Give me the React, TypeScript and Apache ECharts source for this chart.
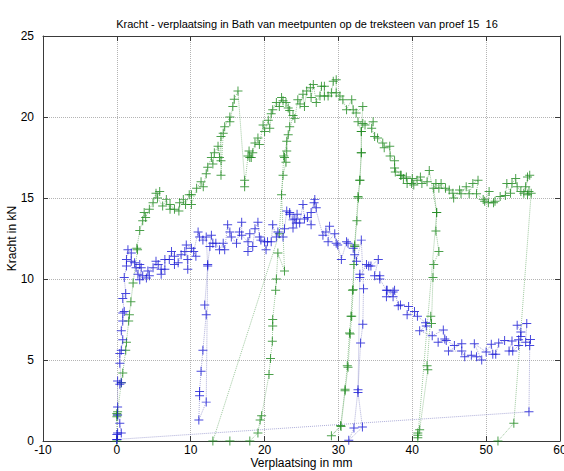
import React, { useEffect, useRef } from "react";
import * as echarts from "echarts";

const title = "Kracht - verplaatsing in Bath van meetpunten op de treksteen van proef 15  16";
const xName = "Verplaatsing in mm";
const yName = "Kracht in kN";
const xTicks = [-10, 0, 10, 20, 30, 40, 50, 60];
const yTicks = [0, 5, 10, 15, 20, 25];

// proef 15 (green)
const greenLoading: number[][] = [
  [0, 0], [0, 1.5], [0, 1.7], [0.1, 1.8], [0.05, 1.6], [0.6, 3.6], [0.8, 4.2], [1.2, 5.6], [1.3, 6.1],
  [1.6, 7.4], [1.7, 7.8], [1.9, 8.6], [2.2, 9.75], [2.8, 11.8], [2.7, 11.9], [3.1, 13], [3.5, 13.6],
  [3.7, 14.1], [3.9, 13.8], [4.4, 14.3], [4.9, 14.7], [5.3, 15.3], [5.8, 15.4], [5.5, 15.0], [6.2, 14.5],
  [6.7, 14.9], [7.2, 14.3], [7.2, 14.6], [7.8, 14.3], [8.4, 14.2], [8.5, 14.7], [9, 14.9], [9.3, 14.6],
  [9.8, 15.2], [10.1, 15.2], [10.1, 14.6], [10.8, 15.6], [11.4, 16.0], [11.7, 15.7], [12.1, 16.5],
  [12.3, 16.9], [12.8, 17.5], [13, 17.1], [13.2, 17.8], [13.7, 18.2], [13.9, 17.5], [14.1, 18.8],
  [14.1, 17.3], [14.1, 16.4], [14.4, 19.0], [14.6, 19.4], [15.3, 20], [15.3, 19.7], [15.7, 20.65],
  [15.9, 21.1], [16.4, 21.6],
];
const greenSecond: number[][] = [
  [17.3, 16.1], [17.3, 15.7], [17.75, 17.6], [18, 17.5], [17.9, 17.9], [18.2, 17.5], [18.4, 17.8],
  [18.7, 18.4], [19.1, 18.7], [19.3, 18.3], [19.8, 19.5], [20, 19.1], [20.5, 19.8], [20.7, 19.3],
  [20.9, 20.2], [21.1, 20.45], [21.6, 20.9], [22, 20.65], [22.3, 21.2], [22.5, 21], [22.9, 20.9],
  [23.2, 20.55], [23.4, 20.4],
];
const greenReload1: number[][] = [
  [23.4, 19.4], [23.2, 18.9], [23, 18.5], [23, 17.9], [22.7, 17.5], [22.9, 17.2], [22.5, 16.4],
  [22.3, 15.2], [22.7, 10.5], [21.8, 11.6], [21.6, 10], [21.5, 9.3], [21.1, 7.5], [21.1, 7.1],
  [21.05, 6.15], [20.8, 5.1], [20.6, 4.1], [19.6, 1.56], [19.4, 1.3], [19.1, 0.5], [18, 0], [15.3, 0],
  [13, 0], [22, 12.8], [22.6, 17.6], [23.85, 20.1],
];
const greenMain: number[][] = [
  [24.1, 19.9], [24.5, 21.07], [24.8, 20.8], [25.2, 21.4], [25.4, 20.65], [25.7, 21.6], [26.2, 21.8],
  [26.3, 21.2], [26.6, 22], [27, 20.9], [27.5, 21.3], [27.7, 21.9], [28.1, 21.9], [28.1, 21.3],
  [28.6, 21.3], [29.05, 21.5], [29.3, 22.2], [29.7, 22.3], [29.7, 21.5], [30.2, 21.3], [30.6, 21.07],
  [31.1, 20.45], [31.8, 21.07], [32, 20.45], [32.4, 20.25], [33.3, 20.65],
];
const greenReload2: number[][] = [
  [33.1, 19.1], [33.1, 17.8], [32.9, 16.1], [32.7, 15], [32.5, 13.6], [32.2, 12], [32.1, 10.9],
  [31.9, 9.3], [31.7, 7.7], [31.5, 6.67], [31.2, 4.65], [30.9, 3.2], [30.3, 0.95], [29.05, 0.33],
  [30.35, 0.9], [30.9, 3.1], [31.3, 4.55], [31.6, 6.6], [31.8, 7.7], [32, 9.33], [32.2, 12.1],
  [32.65, 15.1], [32.9, 16.1], [33.1, 17.8], [33.1, 19.1],
];
const greenDecline: number[][] = [
  [32.65, 19.7], [33.3, 19.6], [33.6, 19.5], [34.7, 19.7], [34.5, 19.3], [34.9, 18.8], [35.3, 18.7],
  [36, 18.4], [36.2, 18.1], [36.95, 18.2], [37, 17.6], [37.6, 17.3], [37.7, 16.6], [37.6, 16.85],
  [38.4, 16.4], [38.5, 16.4], [38.8, 16.2], [39.2, 16.3], [39.3, 15.9], [39.9, 15.9], [40, 16.2],
  [40.2, 15.8], [40.65, 16.1], [41.1, 16.3], [41.3, 15.9], [42, 16], [42.3, 16.7],
];
const greenReload3: number[][] = [
  [43.3, 14.1], [43.2, 12.96], [43.6, 11.7], [42.9, 10.9], [42.8, 10.1], [42.6, 7.25], [42.5, 7.7],
  [42, 4.65], [42.1, 4.4], [41, 0.7], [40.75, 0.5], [40.75, 0.35], [40.75, 0.2], [43.3, 14.1],
];
const greenPlateau: number[][] = [
  [42.9, 15.6], [43.2, 15.9], [43.6, 15.6], [43.9, 15.9], [44.5, 15.6], [45, 15.5], [45.5, 15.3],
  [45.6, 15], [46.4, 15.5], [46.6, 15.26], [47.3, 15.7], [47.7, 15.26], [48.2, 15.9], [48.9, 16.1],
  [48.7, 15.26], [49.6, 14.9], [49.8, 14.8], [50.4, 15.4], [50.3, 14.7], [51, 14.7], [51.2, 14.8],
  [51.9, 15.1], [52.6, 15.15], [52.8, 15.9], [53.3, 15.3], [53.5, 15.9], [54, 16.2], [54.2, 15.7],
  [54.7, 15.4], [55.1, 15.3], [55.6, 16.3], [55.9, 16.4], [55.35, 15.7], [55.8, 15.4], [55.6, 15.2],
  [56.1, 15.3], [53.75, 1.1], [51.6, 0],
];

// proef 16 (blue)
const blueLoading: number[][] = [
  [0, 0.1], [0, 0.4], [0.1, 0.5], [0.6, 0.5], [0.4, 1.1], [0.1, 1.6], [0.1, 2.1], [0.1, 3.7], [0.4, 3.5],
  [0.6, 3.6], [0.4, 4.8], [0.4, 5.4], [0.6, 5.6], [0.8, 6.25], [0.6, 6.8], [0.8, 7.4], [0.8, 7.9],
  [1.0, 8.0], [0.8, 8.8], [1.2, 9.1], [1.0, 10.1], [1.3, 10.8], [1.3, 11.2], [1.5, 11.8], [1.95, 11.6],
  [1.95, 11.1], [2.4, 11], [2.6, 10.7], [2.85, 10.3], [3.1, 10.9], [3.3, 10.7], [3.1, 9.96], [3.5, 10.2],
  [4, 10.06], [4.4, 10.2], [4.2, 10.5], [4.9, 10.7], [5.3, 11.1], [5.6, 10.9], [6, 10.6], [6, 10.3],
  [6.5, 10.6], [6.5, 11.2], [7.1, 11.2], [7.4, 11.7], [7.8, 11.4], [7.8, 10.9], [8.3, 11], [8.7, 11.5],
  [9.2, 11.7], [9.6, 11.2], [9.6, 10.6], [9.4, 12.1], [10.1, 11.9], [10.7, 11.4], [10.4, 11.7],
  [11, 12.9], [11.2, 12.6], [11.65, 12.4], [12.1, 12.6],
];
const blueReload1: number[][] = [
  [12.3, 10.8], [11.9, 8.4], [12.1, 7.8], [11.65, 5.6], [11.4, 4.3], [11.2, 3.06], [11.2, 2.8],
  [11.1, 1.3], [12.1, 2.4], [12.3, 10.9], [12.6, 12.0],
];
const blueMain: number[][] = [
  [12.8, 12.7], [13, 12.2], [13.4, 12.2], [13.9, 11.8], [14.4, 12.2], [14.6, 11.8], [15, 13.35],
  [15.3, 12.9], [15.5, 12.6], [16.2, 12.2], [16.6, 12.9], [16.9, 13.5], [16.9, 12.7], [17.75, 12.3],
  [18, 12.8], [17.75, 11.7], [18.4, 12], [18.7, 13.1], [19.1, 13.5], [19.3, 12.6], [19.5, 12.4],
  [20, 12.3], [20.2, 11.8], [20.4, 12.3], [20.9, 12.3], [21.1, 13.35], [21.6, 12.6], [21.8, 12.9],
  [22.5, 12.6], [22.7, 13.1], [23, 14.2], [23.4, 14], [23.4, 14.1], [23.85, 13.65], [23.85, 13.15],
  [24.1, 13.7], [24.3, 13.45], [24.4, 14], [24.75, 13.45], [25.2, 14.6], [25.4, 13.7], [25.8, 13.8],
  [26.3, 13.35], [26.3, 14.1], [26.8, 14.9], [27, 14.4], [26.7, 14.7], [27.9, 12.7], [28.3, 12.9],
  [28.8, 13.25], [28.6, 12.3], [29.5, 12.8], [29.7, 12.2], [29.9, 12.1], [30.4, 11.2], [31.1, 12.3],
  [31.3, 12.2], [32, 11.9], [32.2, 11.5], [32.45, 11.1], [33.1, 12.4],
];
const blueReload2: number[][] = [
  [33.4, 9.4], [33.3, 7.2], [33, 6.05], [32.65, 3.17], [32.1, 0.8], [31.4, 0.04], [33.25, 0.86],
  [32.65, 3.0], [32.9, 10.3], [32.9, 10.1],
];
const blueDecline: number[][] = [
  [33.8, 10.9], [34.1, 10.8], [34.4, 10.8], [35.4, 11.2], [34.9, 10.2], [35.6, 10.2], [35.6, 10],
  [36.5, 9.3], [37.4, 9.2], [36.5, 8.9], [37.4, 8.9], [36.6, 9.3], [37.6, 9.3], [38.1, 8.35],
  [38.4, 8.4], [39.5, 8.3], [39.3, 7.8], [40.3, 8.0], [40.7, 7.7], [41.8, 7.3], [41.9, 7.1], [41, 6.8],
  [42.7, 6.5], [44.2, 6.85], [44.4, 6.3], [43.5, 6.1], [44.6, 6.2], [45.7, 5.9], [46.7, 6.0],
  [44.9, 5.55], [46.7, 5.55], [47.1, 5.2], [48, 5.3], [48.7, 5.2], [49.4, 5.0], [48.4, 6.0], [50, 5.5],
  [50.7, 5.97], [50.9, 5.35], [51.3, 5.35], [51.7, 6.05], [52.5, 6.2], [53.5, 6.17], [53.1, 5.55],
  [53.6, 5.55], [54.4, 5.9], [54.4, 6.25], [54.7, 6.45], [54.7, 6.73], [54.2, 7.15], [55.5, 7.25],
  [55.35, 6.1], [56, 6.26], [55.9, 5.9], [55.8, 1.8], [0, 0.1],
];

const greenData = [
  ...greenLoading, ...greenSecond, ...greenReload1, ...greenMain, ...greenReload2,
  ...greenDecline, ...greenReload3, ...greenPlateau,
];
const blueData = [...blueLoading, ...blueReload1, ...blueMain, ...blueReload2, ...blueDecline];

const PLUS = "path://M4.45,0 H5.55 V4.45 H10 V5.55 H5.55 V10 H4.45 V5.55 H0 V4.45 H4.45 Z";
const FONT = "Liberation Sans";

export default function App() {
  const ref = useRef<HTMLDivElement>(null);
  useEffect(() => {
    if (!ref.current) return;
    const chart = echarts.init(ref.current, null, { renderer: "svg" });
    const axisLine = { show: true, onZero: false, lineStyle: { color: "#3a3a3a", width: 1 } };
    const tickIn = { show: true, inside: true, length: 5, lineStyle: { color: "#3a3a3a" } };
    const grid = { show: true, lineStyle: { color: "#b4b4b4", type: "dotted", width: 1 } };
    const mkSeries = (data: number[][], color: string, lineColor: string) => ({
      type: "line",
      data,
      xAxisIndex: 0,
      yAxisIndex: 0,
      symbol: PLUS,
      symbolSize: 9,
      showSymbol: true,
      showAllSymbol: true,
      itemStyle: { color, opacity: 0.8 },
      lineStyle: { color: lineColor, width: 1, type: "dotted", opacity: 0.55 },
      emphasis: { disabled: true },
    });
    chart.setOption({
      animation: false,
      backgroundColor: "#ffffff",
      textStyle: { fontFamily: FONT },
      title: {
        text: title,
        left: 302,
        top: 13,
        textAlign: "center",
        textStyle: { fontFamily: FONT, fontSize: 11, fontWeight: "normal", color: "#000" },
      },
      grid: { left: 43, right: 4, top: 36, bottom: 30, show: false, outerBoundsMode: "none", containLabel: false },
      xAxis: [
        {
          type: "value",
          min: -10,
          max: 60,
          interval: 10,
          position: "bottom",
          axisLine,
          axisTick: tickIn,
          splitLine: grid,
          axisLabel: {
            color: "#000",
            fontSize: 12,
            fontFamily: FONT,
            margin: 3,
            formatter: (v: number) => (xTicks.includes(v) ? String(v) : ""),
          },
          name: xName,
          nameLocation: "middle",
          nameGap: 16,
          nameMoveOverlap: false,
          nameTextStyle: { color: "#000", fontSize: 12, fontFamily: FONT },
        },
        {
          type: "value",
          min: -10,
          max: 60,
          interval: 10,
          position: "top",
          axisLine,
          axisTick: tickIn,
          splitLine: { show: false },
          axisLabel: { show: false },
        },
      ],
      yAxis: [
        {
          type: "value",
          min: 0,
          max: 25,
          interval: 5,
          position: "left",
          axisLine,
          axisTick: tickIn,
          splitLine: grid,
          axisLabel: {
            color: "#000",
            fontSize: 12,
            fontFamily: FONT,
            margin: 9,
            formatter: (v: number) => (yTicks.includes(v) ? String(v) : ""),
          },
          name: yName,
          nameLocation: "middle",
          nameGap: 25,
          nameMoveOverlap: false,
          nameTextStyle: { color: "#000", fontSize: 12, fontFamily: FONT },
        },
        {
          type: "value",
          min: 0,
          max: 25,
          interval: 5,
          position: "right",
          axisLine,
          axisTick: tickIn,
          splitLine: { show: false },
          axisLabel: { show: false },
        },
      ],
      series: [
        mkSeries(greenData, "#1f8a1f", "#4d9a4d"),
        mkSeries(blueData, "#1a1ad6", "#6a6ab8"),
      ],
    });
    return () => chart.dispose();
  }, []);
  return (
    <div
      ref={ref}
      style={{ position: "absolute", left: 0, top: 0, width: 564, height: 471, background: "#fff" }}
    />
  );
}
